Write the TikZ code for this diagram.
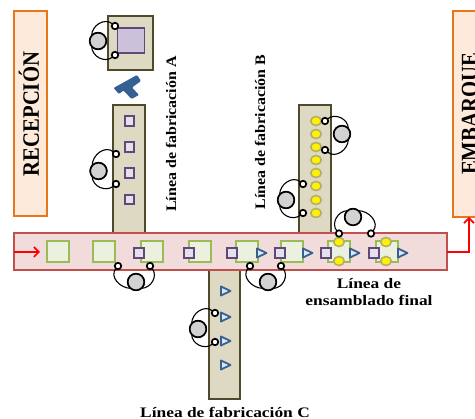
\documentclass[tikz,border=0pt]{standalone}
\usepackage{fontspec}
\setmainfont{Liberation Serif}
\definecolor{beigeF}{HTML}{DDD9C3}
\definecolor{beigeD}{HTML}{4F4A2C}
\definecolor{purpD}{HTML}{5F497A}
\definecolor{purpF}{HTML}{E6E0EC}
\definecolor{purpG}{HTML}{CCC1DA}
\definecolor{greenD}{HTML}{9BBB59}
\definecolor{greenF}{HTML}{EBF1DE}
\definecolor{pinkD}{HTML}{C0504D}
\definecolor{pinkF}{HTML}{F2DCDB}
\definecolor{orangeD}{HTML}{E9771A}
\definecolor{orangeF}{HTML}{FDEADA}
\definecolor{blueD}{HTML}{376092}
\definecolor{blueF}{HTML}{DCE6F2}
\definecolor{yelD}{HTML}{B5AE6A}
\tikzset{
 line/.style={draw=beigeD,fill=beigeF,line width=1.8pt,inner sep=0pt,outer sep=0pt},
 area/.style={draw=orangeD,fill=orangeF,line width=2pt,inner sep=0pt,outer sep=0pt},
 bar/.style={draw=pinkD,fill=pinkF,line width=2pt,inner sep=0pt,outer sep=0pt},
 part/.style={draw=purpD,fill=purpF,line width=1.7pt,minimum size=9.5pt,inner sep=0pt,outer sep=0pt},
 fixture/.style={draw=greenD,fill=greenF,line width=2pt,minimum width=22pt,minimum height=21pt,inner sep=0pt,outer sep=0pt},
 ball/.style={ellipse,draw=yelD,fill=yellow,line width=1.6pt,minimum width=10.5pt,minimum height=9pt,inner sep=0pt,outer sep=0pt},
 tri/.style={draw=blueD,fill=blueF,line width=1.8pt,line join=round},
 operator/.style={circle,draw=black,fill=gray!35,line width=1.6pt,minimum size=16.5pt,inner sep=0pt,outer sep=0pt},
 hand/.style={circle,draw=black,fill=white,line width=1.7pt,minimum size=6.5pt,inner sep=0pt,outer sep=0pt},
 arm/.style={draw=black,line width=1.1pt},
 flow/.style={draw=red,line width=1.6pt,-{Straight Barb[length=5pt,width=10pt]}},
 lbl/.style={font=\bfseries\fontsize{14.5}{16}\selectfont,inner sep=0pt,align=center},
 big/.style={font=\fontsize{23.5}{25}\selectfont,inner sep=0pt,rotate=90,xscale=0.88},
}
\usetikzlibrary{arrows.meta,shapes.geometric}
% name, big circle, hand 1, hand 2, direction from hands to big circle
\newcommand{\worker}[5]{%
 \pgfmathtruncatemacro{\outA}{#5-40}\pgfmathtruncatemacro{\inA}{#5-90}%
 \pgfmathtruncatemacro{\outB}{#5+40}\pgfmathtruncatemacro{\inB}{#5+90}%
 \node[operator] (#1o) at #2 {};
 \node[hand] (#1a) at #3 {};
 \node[hand] (#1b) at #4 {};
 \draw[arm] (#1a) to[out=\outA,in=\inA,looseness=1.1] (#1o.\outA);
 \draw[arm] (#1b) to[out=\outB,in=\inB,looseness=1.1] (#1o.\outB);
 \node[operator] at #2 {};
}
\newcommand{\triang}[3]{%
 \draw[tri] (#2,#3-4.5) -- (#2+9.5,#3) -- (#2,#3+4.5) -- cycle;
 \coordinate (#1) at (#2+5,#3);
}
\begin{document}
\begin{tikzpicture}[x=1pt,y=-1pt]
\clip (0,0) rectangle (475,419);
\fill[white] (0,0) rectangle (475,419);
% areas
\node[area,minimum width=33pt,minimum height=205pt] (rec) at (30.5,113.5) {};
\node[big] (rect) at (29,114) {\bfseries RECEPCIÓN};
\node[area,minimum width=40pt,minimum height=206pt] (emb) at (473,114) {};
\node[big] (embt) at (471.5,114) {\bfseries EMBARQUE};
% lines
\node[line,minimum width=32pt,minimum height=128pt] (la) at (129,169) {};
\node[line,minimum width=32pt,minimum height=128pt] (lb) at (315,169) {};
\node[line,minimum width=31pt,minimum height=129pt] (lc) at (224.5,334.5) {};
\node[bar,minimum width=433pt,minimum height=37pt] (main) at (230.5,251.5) {};
% machine on top
\node[line,minimum width=45pt,minimum height=54pt] (mach) at (130.5,43) {};
\node[draw=purpD,fill=purpG,line width=1.8pt,minimum width=27pt,minimum height=25pt,inner sep=0pt] (machin) at (131,40.5) {};
\fill[blueD,rounded corners=1pt] (113.5,88) -- (137,75) -- (141,81) -- (132,87.5) -- (139,95) -- (131.5,99) -- (123.5,90.5) -- (119,94) -- cycle;
% line A parts
\foreach \n/\y in {1/121,2/147,3/173,4/199.5} \node[part] (pa\n) at (129.5,\y) {};
% line B balls
\foreach \n/\y in {1/121,2/134,3/147,4/160,5/173,6/186,7/200,8/213} \node[ball] (pb\n) at (316,\y) {};
% line C triangles
\triang{tc1}{221}{291}
\triang{tc2}{221}{317}
\triang{tc3}{221}{341}
\triang{tc4}{221}{365}
% main bar content
\foreach \n/\x in {1/57.5,2/104,3/151.5,4/200,5/246.5,6/292,7/338.5,8/386.5} \node[fixture] (f\n) at (\x,252) {};
\foreach \n/\x in {1/139,2/189,3/232,4/280,5/326,6/374} \node[part] (pm\n) at (\x,253) {};
\triang{tm1}{257}{253}
\triang{tm2}{303}{253}
\triang{tm3}{350}{253}
\triang{tm4}{398}{253}
\node[ball] (bm1) at (339,242) {};
\node[ball] (bm2) at (339,261) {};
\node[ball] (bm3) at (386,242) {};
\node[ball] (bm4) at (386,261) {};
% workers
\worker{w1}{(98,41)}{(115,26)}{(115,55)}{180}
\worker{w2}{(98.5,171)}{(116,154)}{(116,184)}{180}
\worker{w3}{(342,134)}{(325,150)}{(325,121)}{0}
\worker{w4}{(286,200)}{(303,184)}{(303,213)}{180}
\worker{w5}{(353,217)}{(371,233.5)}{(339,233.5)}{90}
\worker{w6}{(136,282)}{(118,266)}{(150,266)}{270}
\worker{w7}{(268,282)}{(250,266)}{(281,266)}{270}
\worker{w8}{(198,329)}{(215,313)}{(215,342)}{180}
% flow
\coordinate (inS) at (14,252);
\draw[flow] (inS) -- (40,252);
\coordinate (outC) at (469,252);
\draw[flow] (main.east |- outC) -- (outC) -- (outC |- emb.south);
% labels
\node[lbl,rotate=90,xscale=1.1] (ta) at (171,134) {Línea de fabricación A};
\node[lbl,rotate=90,xscale=1.1] (tb) at (260,132) {Línea de fabricación B};
\node[lbl,xscale=1.2] (tc) at (225,412) {Línea de fabricación C};
\node[lbl,xscale=1.2] (td) at (369,292) {Línea de\\[1pt]ensamblado final};
\end{tikzpicture}
\end{document}
